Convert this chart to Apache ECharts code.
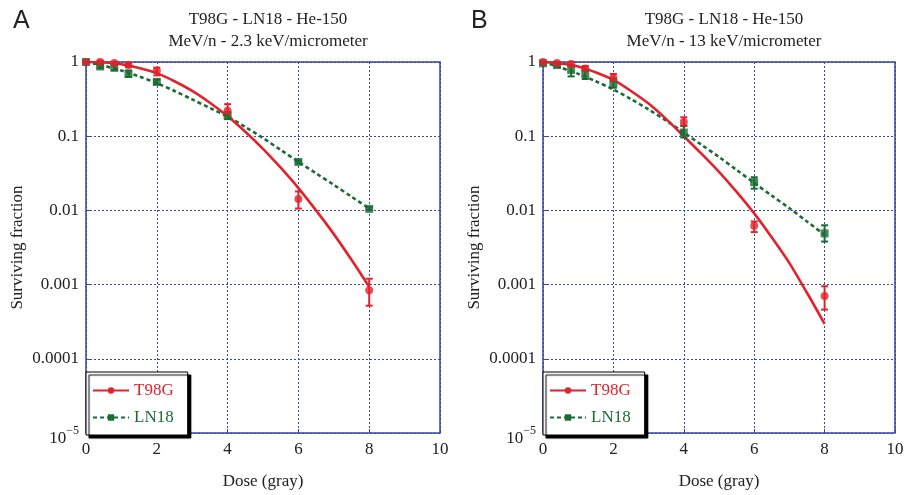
<!DOCTYPE html>
<html><head><meta charset="utf-8">
<script src="https://cdn.jsdelivr.net/npm/echarts@6/dist/echarts.min.js"></script>
<style>html,body{margin:0;padding:0;background:#fff}#c{width:907px;height:495px}</style>
</head><body><div id="c"></div>
<script>
// ---- data ----
const xTicks = [0, 2, 4, 6, 8, 10];
const yTickLabels = {'1':'1','0.1':'0.1','0.01':'0.01','0.001':'0.001','0.0001':'0.0001','0.00001':'{b|10}{s|−5}'};
const pointDoses = [0, 0.4, 0.8, 1.2, 2, 4, 6, 8];
const curveDoses = [0, 0.5, 1, 1.5, 2, 2.5, 3, 3.5, 4, 4.5, 5, 5.5, 6, 6.5, 7, 7.5, 8];

// Panel A (2.3 keV/micrometer)
const aT98G = [1.0, 1.0, 0.97, 0.91, 0.76, 0.22, 0.0142, 0.00084];
const aT98GLow = [1.0, 0.96, 0.93, 0.86, 0.66, 0.19, 0.0106, 0.00052];
const aT98GHigh = [1.0, 1.04, 1.0, 0.96, 0.84, 0.27, 0.018, 0.0012];
const aLN18 = [1.0, 0.87, 0.84, 0.69, 0.54, 0.19, 0.045, 0.0105];
const aLN18Low = [0.97, 0.83, 0.77, 0.63, 0.5, 0.17, 0.043, 0.0101];
const aLN18High = [1.03, 0.91, 0.91, 0.77, 0.58, 0.21, 0.047, 0.011];
const aT98GFit = [1, 0.984, 0.933, 0.832, 0.708, 0.55, 0.407, 0.282, 0.186, 0.115, 0.0676, 0.0376, 0.02, 0.01, 0.00479, 0.00216, 0.000933];
const aLN18Fit = [1, 0.891, 0.767, 0.638, 0.519, 0.407, 0.313, 0.24, 0.184, 0.133, 0.0944, 0.0653, 0.0452, 0.0316, 0.0221, 0.0153, 0.0106];

// Panel B (13 keV/micrometer)
const bT98G = [1.0, 0.97, 0.94, 0.82, 0.61, 0.155, 0.0062, 0.0007];
const bT98GLow = [1.0, 0.94, 0.88, 0.76, 0.55, 0.14, 0.0051, 0.00046];
const bT98GHigh = [1.0, 1.0, 1.0, 0.88, 0.69, 0.18, 0.0071, 0.00095];
const bLN18 = [0.96, 0.91, 0.78, 0.69, 0.52, 0.112, 0.024, 0.0049];
const bLN18Low = [0.92, 0.86, 0.64, 0.59, 0.45, 0.096, 0.0196, 0.0038];
const bLN18High = [1.0, 0.95, 0.91, 0.78, 0.6, 0.137, 0.028, 0.0063];
const bT98GFit = [1, 0.955, 0.871, 0.724, 0.575, 0.407, 0.275, 0.17, 0.1, 0.0582, 0.0331, 0.0178, 0.00912, 0.00432, 0.00195, 0.000776, 0.000295];
const bLN18Fit = [1, 0.841, 0.692, 0.55, 0.427, 0.316, 0.229, 0.162, 0.112, 0.0767, 0.0525, 0.0351, 0.0234, 0.0158, 0.0107, 0.00708, 0.00468];

const titlesA = ['T98G - LN18 - He-150', 'MeV/n - 2.3 keV/micrometer'];
const titlesB = ['T98G - LN18 - He-150', 'MeV/n - 13 keV/micrometer'];

// ---- styles ----
const RED = '#e3222b', GREEN = '#1b6b36', BLUE = '#3646a3';
const SERIF = 'Liberation Serif';
const chart = echarts.init(document.getElementById('c'));

const grids = [
  {left: 86, top: 62, width: 354, height: 375},
  {left: 543, top: 62, width: 352, height: 375}
];
grids.forEach(g => { g.show = true; g.borderColor = BLUE; g.borderWidth = 1.5; g.backgroundColor = '#fff'; });

function xAxis(i) {
  return {
    type: 'value', gridIndex: i, min: 0, max: 10, interval: 2,
    name: 'Dose (gray)', nameLocation: 'middle', nameGap: 40,
    nameTextStyle: {fontFamily: SERIF, fontSize: 17, color: '#222'},
    axisLine: {show: false},
    axisTick: {show: true, inside: true, length: 4, lineStyle: {color: BLUE}},
    axisLabel: {fontFamily: SERIF, fontSize: 17, color: '#222', margin: 8},
    splitLine: {show: true, lineStyle: {color: BLUE, type: [2, 2], width: 1}}
  };
}
function yAxis(i) {
  return {
    type: 'log', logBase: 10, gridIndex: i, min: 0.00001, max: 1,
    name: 'Surviving fraction', nameLocation: 'middle', nameGap: 60, nameRotate: 90,
    nameTextStyle: {fontFamily: SERIF, fontSize: 17, color: '#222'},
    axisLine: {show: false},
    axisTick: {show: true, inside: true, length: 4, lineStyle: {color: BLUE}},
    axisLabel: {
      fontFamily: SERIF, fontSize: 17, color: '#222', margin: 7,
      formatter: v => {
        const k = String(Number(v.toPrecision(3)));
        if (k === '0.00001' || k === '1e-5') return yTickLabels['0.00001'];
        return yTickLabels[k] !== undefined ? yTickLabels[k] : k;
      },
      rich: {
        b: {fontFamily: SERIF, fontSize: 17, color: '#222', padding: [12, 0, 0, 0]},
        s: {fontFamily: SERIF, fontSize: 12, color: '#222', padding: [0, 0, 4, 0]}
      }
    },
    splitLine: {show: true, lineStyle: {color: BLUE, type: [2, 2], width: 1}}
  };
}

function zip(xs, ys) { return xs.map((x, i) => [x, ys[i]]); }
function zip3(xs, lo, hi) { return xs.map((x, i) => [x, lo[i], hi[i]]); }

function errSeries(i, name, lo, hi, color) {
  return {
    type: 'custom', name: name, xAxisIndex: i, yAxisIndex: i, z: 4,
    data: zip3(pointDoses, lo, hi),
    encode: {x: 0, y: [1, 2]},
    renderItem: (params, api) => {
      const x = api.value(0);
      const p1 = api.coord([x, api.value(1)]);
      const p2 = api.coord([x, api.value(2)]);
      const st = {stroke: color, lineWidth: 2};
      return {type: 'group', children: [
        {type: 'line', shape: {x1: p1[0], y1: p1[1], x2: p2[0], y2: p2[1]}, style: st},
        {type: 'line', shape: {x1: p1[0] - 3.5, y1: p1[1], x2: p1[0] + 3.5, y2: p1[1]}, style: st},
        {type: 'line', shape: {x1: p2[0] - 3.5, y1: p2[1], x2: p2[0] + 3.5, y2: p2[1]}, style: st}
      ]};
    }
  };
}

function panelSeries(i, t98, t98lo, t98hi, ln, lnlo, lnhi, t98fit, lnfit) {
  return [
    {type: 'line', name: 'LN18', xAxisIndex: i, yAxisIndex: i, data: zip(curveDoses, lnfit),
     smooth: 0.3, symbol: 'rect', symbolSize: 8, showSymbol: false, z: 2,
     itemStyle: {color: GREEN}, lineStyle: {color: GREEN, width: 2.6, type: [4, 3]}},
    {type: 'line', name: 'T98G', xAxisIndex: i, yAxisIndex: i, data: zip(curveDoses, t98fit),
     smooth: 0.3, symbol: 'circle', symbolSize: 8, showSymbol: false, z: 3,
     itemStyle: {color: RED}, lineStyle: {color: RED, width: 2.6}},
    errSeries(i, 'LN18 err', lnlo, lnhi, GREEN),
    errSeries(i, 'T98G err', t98lo, t98hi, RED),
    {type: 'scatter', name: 'LN18 pts', xAxisIndex: i, yAxisIndex: i, data: zip(pointDoses, ln),
     symbol: 'rect', symbolSize: 8, itemStyle: {color: GREEN}, z: 5},
    {type: 'scatter', name: 'T98G pts', xAxisIndex: i, yAxisIndex: i, data: zip(pointDoses, t98),
     symbol: 'circle', symbolSize: 8, itemStyle: {color: RED}, z: 6}
  ];
}

function legend(left) {
  return {
    left: left, top: 372, orient: 'vertical',
    data: [{name: 'T98G', textStyle: {color: RED}}, {name: 'LN18', textStyle: {color: GREEN}}],
    itemWidth: 36, itemHeight: 8, itemGap: 10,
    padding: [10, 14, 9, 6],
    backgroundColor: '#fff', borderColor: '#000', borderWidth: 1,
    shadowColor: '#000', shadowBlur: 1, shadowOffsetX: 3, shadowOffsetY: 3,
    textStyle: {fontFamily: SERIF, fontSize: 17},
    selectedMode: false
  };
}

const titleStyle = {fontFamily: SERIF, fontSize: 17, fontWeight: 'normal', color: '#222', lineHeight: 22};
const option = {
  animation: false,
  title: [
    {text: titlesA.join('\n'), left: 263, top: 4, textAlign: 'center', textStyle: titleStyle},
    {text: titlesB.join('\n'), left: 719, top: 4, textAlign: 'center', textStyle: titleStyle},
    {text: 'A', left: 8, top: 4, textStyle: {fontFamily: 'Liberation Sans', fontSize: 25, fontWeight: 'normal', color: '#222'}},
    {text: 'B', left: 466, top: 4, textStyle: {fontFamily: 'Liberation Sans', fontSize: 25, fontWeight: 'normal', color: '#222'}}
  ],
  grid: grids,
  xAxis: [xAxis(0), xAxis(1)],
  yAxis: [yAxis(0), yAxis(1)],
  legend: [legend(86), legend(543)],
  series: [].concat(
    panelSeries(0, aT98G, aT98GLow, aT98GHigh, aLN18, aLN18Low, aLN18High, aT98GFit, aLN18Fit),
    panelSeries(1, bT98G, bT98GLow, bT98GHigh, bLN18, bLN18Low, bLN18High, bT98GFit, bLN18Fit)
  )
};
chart.setOption(option);
</script>
</body></html>
